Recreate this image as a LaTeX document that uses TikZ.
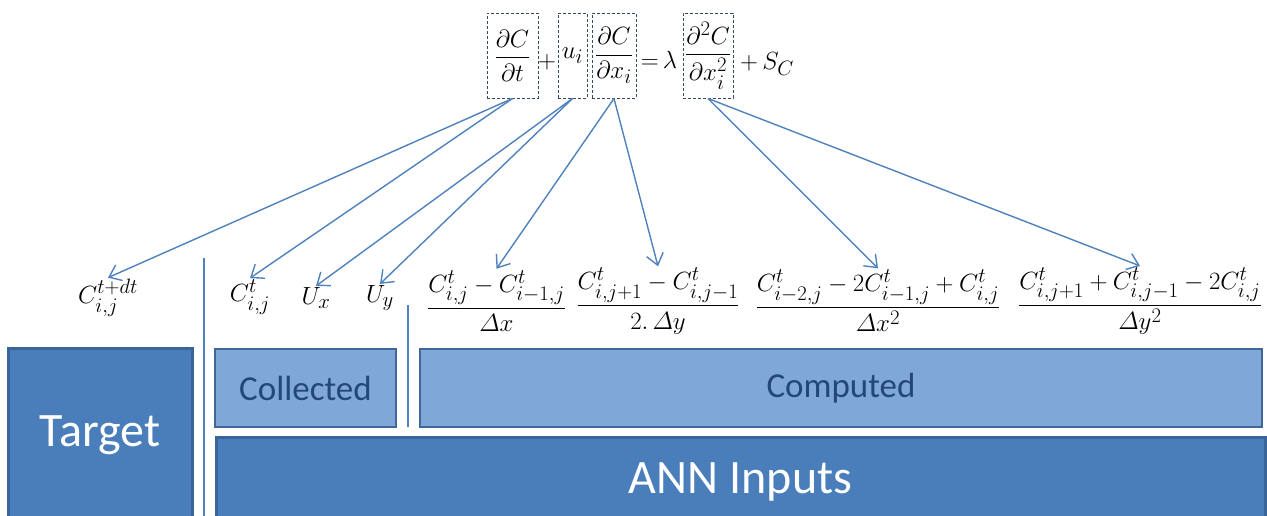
\documentclass[tikz,border=0pt]{standalone}
\usepackage{amsmath}
\usepackage[no-math]{fontspec}
\newfontfamily\calibri{Carlito}
\usetikzlibrary{arrows.meta}
\definecolor{darkfill}{HTML}{4A7EBB}
\definecolor{darkedge}{HTML}{3A6598}
\definecolor{lightfill}{HTML}{7FA7D7}
\definecolor{lightedge}{HTML}{3F6799}
\definecolor{lighttext}{HTML}{23477A}
\definecolor{arrowblue}{HTML}{4F81BD}
\definecolor{dashgray}{HTML}{3A4A5E}
\newcommand{\Dlt}{\mathnormal{\Delta}}
\begin{document}
\begin{tikzpicture}[x=1pt,y=-1pt,
  darkbox/.style={rectangle, draw=darkedge, line width=3pt, fill=darkfill, text=white,
    font=\calibri\fontsize{48}{56}\selectfont, inner sep=0pt},
  lightbox/.style={rectangle, draw=lightedge, line width=2pt, fill=lightfill, text=lighttext,
    font=\calibri\fontsize{35}{42}\selectfont, inner sep=0pt},
  eqbox/.style={rectangle, draw=dashgray, densely dashed, line width=1pt, inner sep=0pt,
    minimum height=85pt, font=\fontsize{29}{34}\selectfont},
  eqtext/.style={inner sep=0pt, font=\fontsize{29}{34}\selectfont},
  term/.style={inner sep=1.5pt, font=\fontsize{29}{34}\selectfont},
  frac/.style={inner sep=1.5pt, font=\fontsize{30}{36}\selectfont},
  arr/.style={draw=arrowblue, line width=1.4pt, -{Straight Barb[length=11pt,width=17pt,line width=1.4pt]}},
  divider/.style={draw=arrowblue, line width=1.8pt}
]
\useasboundingbox (0,0) rectangle (1267,515);
\begin{scope}
\clip (0,0) rectangle (1267,515);
% boxes
\node[darkbox, minimum width=184pt, minimum height=174pt] (target) at (100,435) {Target};
\node[darkbox, minimum width=1049pt, minimum height=90pt] (ann) at (740.5,482) {ANN Inputs};
\node[lightbox, minimum width=181pt, minimum height=78pt] (collected) at (305.5,388) {Collected};
\node[lightbox, minimum width=842pt, minimum height=78pt] (computed) at (841,388) {Computed};
% dividers
\coordinate (d1top) at (204,258);
\coordinate (d1bot) at (204,520);
\coordinate (d2top) at (408,305);
\coordinate (d2bot) at (408,427);
\draw[divider] (d1top) -- (d1bot);
\draw[divider] (d2top) -- (d2bot);
\end{scope}
% equation
\node[eqbox, minimum width=51pt] (b1) at (512.5,55.5) {$\dfrac{\partial C}{\partial t}$};
\node[eqtext] (p1) at (547,62) {$+$};
\node[eqbox, minimum width=29pt] (b2) at (572.5,55.5) {$u_i$};
\node[eqbox, minimum width=44pt] (b3) at (614,55.5) {$\dfrac{\partial C}{\partial x_i}$};
\node[eqtext] (eq) at (659,60) {${=}\,\lambda$};
\node[eqbox, minimum width=50pt] (b4) at (708,55.5) {$\dfrac{\partial^2 C}{\partial x_i^{2}}$};
\node[eqtext] (src) at (767,64) {$+\,S_C$};
% terms
\node[term] (ctdt) at (108,298) {$C_{i,j}^{t+dt}$};
\node[term] (ct) at (250,297) {$C_{i,j}^{t}$};
\node[term] (ux) at (316,298) {$U_x$};
\node[term] (uy) at (380,298) {$U_y$};
\node[frac] (f1) at (496.5,301) {$\dfrac{C^t_{i,j}-C^t_{i-1,j}}{\Dlt x}$};
\node[frac] (f2) at (658,301) {$\dfrac{C^t_{i,j+1}-C^t_{i,j-1}}{2.\,\Dlt y}$};
\node[frac] (f3) at (878,301) {$\dfrac{C^t_{i-2,j}-2C^t_{i-1,j}+C^t_{i,j}}{\Dlt x^2}$};
\node[frac] (f4) at (1140,301) {$\dfrac{C^t_{i,j+1}+C^t_{i,j-1}-2C^t_{i,j}}{\Dlt y^2}$};
% arrows
\draw[arr] (b1.south) -- (ctdt.north);
\draw[arr] (b1.south) -- (ct.north);
\draw[arr] (b2.south) -- (ux.north);
\draw[arr] (b2.south) -- (uy.north);
\draw[arr] (b3.south) -- (f1.north);
\draw[arr] (b3.south) -- (f2.north);
\draw[arr] (b4.south) -- (f3.north);
\draw[arr] (b4.south) -- (f4.north);
\end{tikzpicture}
\end{document}
